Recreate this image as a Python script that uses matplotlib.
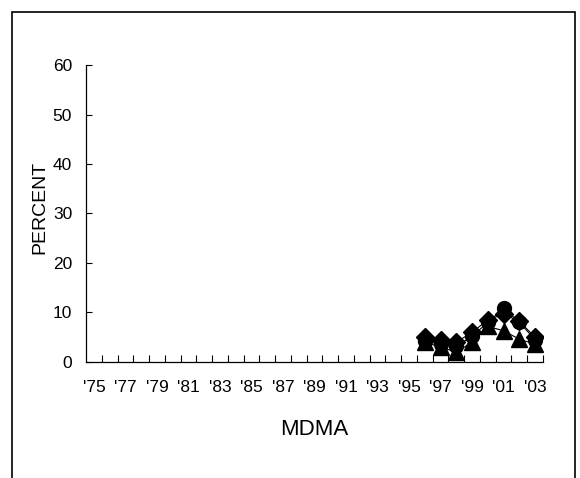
import numpy as np
import matplotlib
matplotlib.use("Agg")
import matplotlib.pyplot as plt
import matplotlib.patches as mpatches

plt.rcParams['font.family'] = ['Liberation Sans', 'DejaVu Sans']

years = list(range(1975, 2004))
year_labels = ["'%02d" % (y % 100) for y in years]

# data only exists from 1996 on
data_years = [1996, 1997, 1998, 1999, 2000, 2001, 2002, 2003]
diamond_vals = [5.0, 4.5, 4.0, 6.0, 8.5, 9.7, 8.2, 5.0]
circle_vals = [4.2, 3.6, 3.2, 5.2, 8.0, 10.9, 8.0, 4.5]
triangle_vals = [4.0, 3.0, 2.0, 4.0, 7.2, 6.3, 4.6, 3.6]

fig = plt.figure(figsize=(5.8, 4.78), dpi=100)
ax = fig.add_axes([0.1483, 0.2427, 0.7879, 0.6213])

xpos = [years.index(y) for y in data_years]
ax.plot(xpos, circle_vals, '-', color='k', lw=0.8, marker='o', ms=10, zorder=3)
ax.plot(xpos, triangle_vals, '-', color='k', lw=0.8, marker='^', ms=11, zorder=4)
ax.plot(xpos, diamond_vals, '-', color='k', lw=0.8, marker='D', ms=9, zorder=5)

ax.set_xlim(-0.5, len(years) - 0.5)
ax.set_ylim(0, 60)

ax.spines['top'].set_visible(False)
ax.spines['right'].set_visible(False)
ax.spines['left'].set_linewidth(0.9)
ax.spines['bottom'].set_linewidth(0.9)

ax.set_yticks(range(0, 61, 10))
ax.tick_params(axis='y', direction='in', length=4, width=0.8, labelsize=12.5, pad=10)

ax.set_xticks(range(0, len(years), 2))
ax.set_xticklabels(year_labels[::2])
ax.tick_params(axis='x', which='major', length=0, labelsize=12.5, pad=13)
ax.set_xticks(np.arange(0.5, len(years), 1.0), minor=True)
ax.tick_params(axis='x', which='minor', direction='in', length=5, width=0.8)

ax.set_xlabel('MDMA', fontsize=16, labelpad=17)
ax.set_ylabel('PERCENT', fontsize=14)
ax.yaxis.set_label_coords(-0.083, 0.52)

border = mpatches.Rectangle((12 / 580, -0.1), 563 / 580, 1.1 - 12 / 478,
                            transform=fig.transFigure, fill=False,
                            edgecolor='k', lw=1.2, clip_on=False)
fig.patches.append(border)

fig.savefig('out.png', dpi=100)
